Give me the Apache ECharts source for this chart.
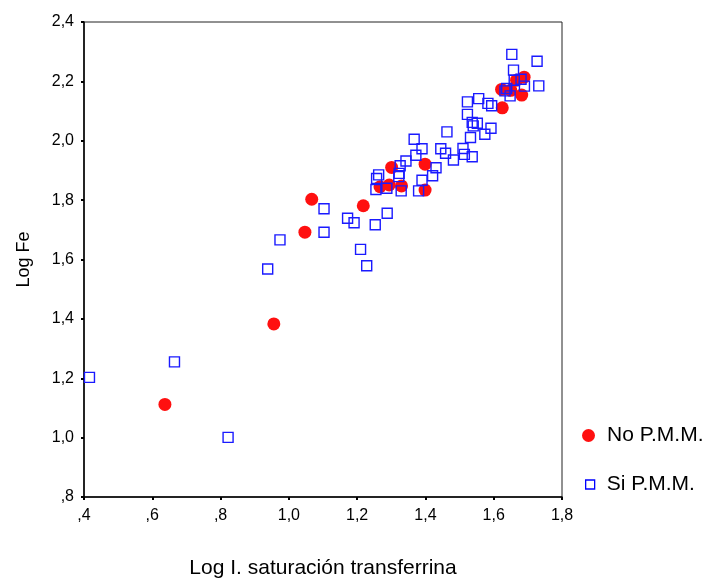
<!DOCTYPE html>
<html>
<head>
<meta charset="utf-8">
<script src="https://cdn.jsdelivr.net/npm/echarts@6/dist/echarts.min.js"></script>
<style>html,body{margin:0;padding:0;background:#fff}#c{width:709px;height:579px}</style>
</head>
<body>
<div id="c"></div>
<script>
var xTicks = [0.4, 0.6, 0.8, 1.0, 1.2, 1.4, 1.6, 1.8];
var yTicks = [0.8, 1.0, 1.2, 1.4, 1.6, 1.8, 2.0, 2.2, 2.4];
var noPMM = [
  [0.637,1.112],[0.956,1.383],[1.047,1.692],[1.067,1.803],[1.218,1.781],
  [1.267,1.845],[1.294,1.851],[1.301,1.910],[1.330,1.848],[1.399,1.921],
  [1.399,1.834],[1.623,2.173],[1.625,2.111],[1.650,2.170],[1.667,2.204],
  [1.682,2.154],[1.689,2.214]
];
var siPMM = [
  [0.416,1.203],[0.665,1.255],[0.822,1.001],[0.938,1.568],[0.974,1.666],
  [1.103,1.692],[1.103,1.771],[1.172,1.739],[1.191,1.724],[1.210,1.634],
  [1.228,1.579],[1.253,1.717],[1.255,1.836],[1.257,1.873],[1.263,1.885],
  [1.287,1.840],[1.288,1.756],[1.322,1.879],[1.323,1.890],[1.326,1.916],
  [1.329,1.831],[1.343,1.932],[1.367,2.005],[1.372,1.951],[1.380,1.831],
  [1.390,1.867],[1.390,1.973],[1.421,1.882],[1.431,1.909],[1.445,1.973],
  [1.459,1.958],[1.463,2.030],[1.482,1.935],[1.510,1.974],[1.514,1.954],
  [1.523,2.131],[1.523,2.089],[1.532,2.011],[1.537,2.062],[1.537,1.946],
  [1.540,2.050],[1.552,2.059],[1.556,2.142],[1.574,2.022],[1.583,2.126],
  [1.592,2.042],[1.594,2.118],[1.633,2.168],[1.638,2.176],[1.648,2.151],
  [1.653,2.291],[1.658,2.238],[1.660,2.204],[1.680,2.207],[1.690,2.184],
  [1.727,2.268],[1.732,2.185]
];
var seriesNames = ['No P.M.M.', 'Si P.M.M.'];
var xName = 'Log I. saturación transferrina';
var yName = 'Log Fe';

function fmt(v) {
  var s = (Math.round(v * 10) / 10).toFixed(1).replace('.', ',');
  if (s.charAt(0) === '0') s = s.substring(1);
  return s;
}
var font = 'Liberation Sans, Arial, sans-serif';
var chart = echarts.init(document.getElementById('c'), null, {renderer: 'canvas'});
chart.setOption({
  animation: false,
  backgroundColor: '#fff',
  grid: {left: 84, top: 22, right: 147, bottom: 82, show: true, borderColor: '#222', borderWidth: 1,
         containLabel: false, outerBoundsMode: 'none'},
  xAxis: {
    type: 'value', min: xTicks[0], max: xTicks[xTicks.length - 1], interval: 0.2,
    name: xName, nameLocation: 'middle', nameGap: 61,
    nameTextStyle: {fontFamily: font, fontSize: 21, color: '#000'},
    axisLine: {show: true, onZero: false, lineStyle: {color: '#000', width: 1.5}},
    axisTick: {show: true, length: 3, lineStyle: {color: '#000', width: 2}},
    axisLabel: {formatter: fmt, fontFamily: font, fontSize: 16, color: '#000', margin: 11},
    splitLine: {show: false}
  },
  yAxis: {
    type: 'value', min: yTicks[0], max: yTicks[yTicks.length - 1], interval: 0.2,
    name: yName, nameLocation: 'middle', nameGap: 51,
    nameTextStyle: {fontFamily: font, fontSize: 18, color: '#000'},
    axisLine: {show: true, onZero: false, lineStyle: {color: '#000', width: 1.5}},
    axisTick: {show: true, length: 3, lineStyle: {color: '#000', width: 2}},
    axisLabel: {formatter: fmt, fontFamily: font, fontSize: 16, color: '#000', margin: 10},
    splitLine: {show: false}
  },
  legend: [
    {orient: 'vertical', left: 582, top: 425, padding: 0, itemWidth: 13, itemHeight: 13, itemGap: 10,
     data: [{name: seriesNames[0], icon: 'circle'}],
     textStyle: {fontFamily: font, fontSize: 21, color: '#000', padding: [0, 0, 0, 7]}},
    {orient: 'vertical', left: 585, top: 474, padding: 0, itemWidth: 9, itemHeight: 9, itemGap: 10,
     data: [{name: seriesNames[1], icon: 'rect', itemStyle: {color: '#fff', borderColor: '#0000ff', borderWidth: 1.3}}],
     textStyle: {fontFamily: font, fontSize: 21, color: '#000', padding: [0, 0, 0, 7]}}
  ],
  series: [
    {name: seriesNames[0], type: 'scatter', data: noPMM, symbol: 'circle', symbolSize: 13,
     itemStyle: {color: '#ff1010', opacity: 1}},
    {name: seriesNames[1], type: 'scatter', data: siPMM, symbol: 'rect', symbolSize: 10,
     itemStyle: {color: 'rgba(255,255,255,0)', borderColor: '#1a1aff', borderWidth: 1.4, opacity: 1}}
  ]
});
</script>
</body>
</html>
